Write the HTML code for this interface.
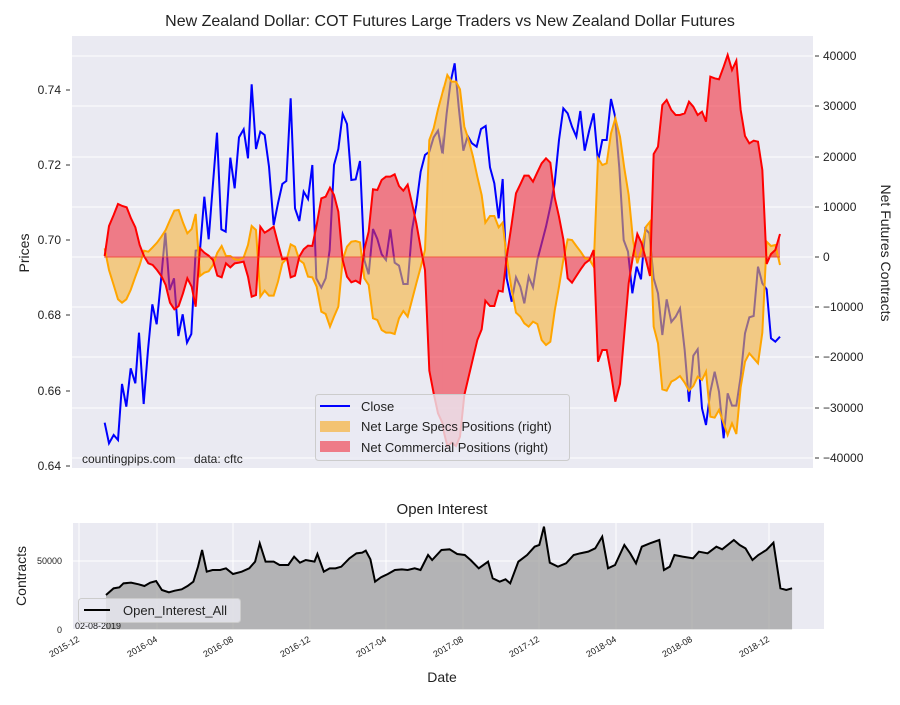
<!DOCTYPE html>
<html><head><meta charset="utf-8"><style>
body{margin:0;background:#fff;}
svg text{font-family:"Liberation Sans",sans-serif;fill:#222;}
</style></head><body>
<svg width="900" height="700" viewBox="0 0 900 700" xmlns="http://www.w3.org/2000/svg">
<text x="450" y="26" font-size="16" text-anchor="middle">New Zealand Dollar: COT Futures Large Traders vs New Zealand Dollar Futures</text>
<rect x="72" y="36" width="741" height="432" fill="#eaeaf2"/>
<g stroke="#fff" stroke-width="1">
<line x1="72" x2="813" y1="56" y2="56"/><line x1="72" x2="813" y1="106" y2="106"/><line x1="72" x2="813" y1="157" y2="157"/><line x1="72" x2="813" y1="207" y2="207"/><line x1="72" x2="813" y1="257" y2="257"/><line x1="72" x2="813" y1="307" y2="307"/><line x1="72" x2="813" y1="357" y2="357"/><line x1="72" x2="813" y1="408" y2="408"/><line x1="72" x2="813" y1="458" y2="458"/>
</g>
<g font-size="12" text-anchor="end">
<text x="61" y="94">0.74</text><text x="61" y="169">0.72</text><text x="61" y="244">0.70</text><text x="61" y="319">0.68</text><text x="61" y="395">0.66</text><text x="61" y="470">0.64</text>
</g>
<g stroke="#333" stroke-width="1">
<line x1="66" x2="70" y1="90" y2="90"/><line x1="66" x2="70" y1="165" y2="165"/><line x1="66" x2="70" y1="240" y2="240"/><line x1="66" x2="70" y1="315" y2="315"/><line x1="66" x2="70" y1="391" y2="391"/><line x1="66" x2="70" y1="466" y2="466"/>
<line x1="815" x2="819" y1="56" y2="56"/><line x1="815" x2="819" y1="106" y2="106"/><line x1="815" x2="819" y1="157" y2="157"/><line x1="815" x2="819" y1="207" y2="207"/><line x1="815" x2="819" y1="257" y2="257"/><line x1="815" x2="819" y1="307" y2="307"/><line x1="815" x2="819" y1="357" y2="357"/><line x1="815" x2="819" y1="408" y2="408"/><line x1="815" x2="819" y1="458" y2="458"/>
</g>
<g font-size="12">
<text x="823" y="60">40000</text><text x="823" y="110">30000</text><text x="823" y="161">20000</text><text x="823" y="211">10000</text><text x="823" y="261">0</text><text x="823" y="311">−10000</text><text x="823" y="361">−20000</text><text x="823" y="412">−30000</text><text x="823" y="462">−40000</text>
</g>
<text transform="translate(29,253) rotate(-90)" font-size="14" text-anchor="middle">Prices</text>
<text transform="translate(881,253) rotate(90)" font-size="14" text-anchor="middle">Net Futures Contracts</text>

<defs><clipPath id="c1"><rect x="0" y="0" width="1125" height="1400"/></clipPath><clipPath id="c2"><rect x="9" y="0" width="1100" height="1400"/></clipPath></defs>
<g transform="translate(68,30) scale(0.33333)" clip-path="url(#c1)">
<polyline fill="none" stroke="#0000ff" stroke-width="6" points="110,1178 123,1240 137,1215 150,1230 162,1062 175,1130 188,1015 202,1060 213,908 227,1122 240,960 253,823 266,883 280,740 292,608 305,780 318,745 331,918 344,853 357,938 370,912 383,662 396,660 409,500 422,628 435,460 447,308 460,598 473,605 487,383 500,475 513,322 527,298 540,385 551,163 564,357 577,305 590,315 603,410 617,585 630,520 643,462 655,453 668,205 681,535 694,573 707,485 720,507 733,405 745,745 760,773 773,745 785,660 798,405 811,357 824,252 837,282 850,450 863,448 876,393 889,690 902,733 915,597 928,627 941,673 954,690 967,598 980,698 993,707 1006,762 1019,762 1032,600 1045,525 1058,425 1071,375 1084,365 1097,322 1110,302 1123,370 1138,200 1150,150"/>
<polygon fill="#f6b23a" fill-opacity="0.6" points="110,682 110,655 123,720 137,765 150,808 162,818 175,808 188,780 202,740 215,705 228,662 241,665 254,652 267,638 280,620 293,600 306,570 319,542 332,540 345,578 358,610 371,597 383,552 396,738 409,728 422,724 435,705 448,668 461,648 474,678 487,678 500,688 513,690 527,682 540,645 551,588 564,600 577,800 590,782 603,797 617,797 630,755 643,700 657,685 668,643 681,650 694,690 707,700 720,740 733,742 746,770 760,845 773,852 786,890 798,860 811,830 824,690 837,650 850,635 863,633 876,637 889,745 902,765 915,865 928,870 941,900 954,908 967,908 980,912 993,865 1006,843 1019,860 1032,810 1045,760 1058,712 1071,660 1084,330 1097,295 1110,238 1123,190 1136,138 1150,100 1150,682"/>
<polygon fill="#f03040" fill-opacity="0.6" points="110,682 110,678 123,588 137,555 150,522 163,528 176,532 189,565 202,592 215,645 228,678 241,700 254,705 267,720 280,738 293,765 306,818 319,838 332,828 345,790 358,745 371,770 383,830 396,655 409,668 422,677 435,690 448,737 461,742 474,700 487,712 500,700 513,698 527,695 540,740 551,800 564,795 577,590 590,608 603,600 617,590 630,640 643,688 657,685 668,742 681,737 694,680 707,658 720,647 733,648 746,585 760,505 773,500 786,473 798,495 811,545 824,690 837,740 850,757 863,752 876,760 889,658 902,605 915,478 928,480 941,450 954,440 967,440 980,433 993,468 1006,482 1019,464 1032,520 1045,580 1058,653 1071,720 1084,1022 1097,1090 1110,1150 1123,1178 1136,1250 1150,1200 1150,682"/>
<polyline fill="none" stroke="#ffa500" stroke-width="6" points="110,655 123,720 137,765 150,808 162,818 175,808 188,780 202,740 215,705 228,662 241,665 254,652 267,638 280,620 293,600 306,570 319,542 332,540 345,578 358,610 371,597 383,552 396,738 409,728 422,724 435,705 448,668 461,648 474,678 487,678 500,688 513,690 527,682 540,645 551,588 564,600 577,800 590,782 603,797 617,797 630,755 643,700 657,685 668,643 681,650 694,690 707,700 720,740 733,742 746,770 760,845 773,852 786,890 798,860 811,830 824,690 837,650 850,635 863,633 876,637 889,745 902,765 915,865 928,870 941,900 954,908 967,908 980,912 993,865 1006,843 1019,860 1032,810 1045,760 1058,712 1071,660 1084,330 1097,295 1110,238 1123,190 1136,138 1150,100"/>
<polyline fill="none" stroke="#ff0000" stroke-width="6" points="110,678 123,588 137,555 150,522 163,528 176,532 189,565 202,592 215,645 228,678 241,700 254,705 267,720 280,738 293,765 306,818 319,838 332,828 345,790 358,745 371,770 383,830 396,655 409,668 422,677 435,690 448,737 461,742 474,700 487,712 500,700 513,698 527,695 540,740 551,800 564,795 577,590 590,608 603,600 617,590 630,640 643,688 657,685 668,742 681,737 694,680 707,658 720,647 733,648 746,585 760,505 773,500 786,473 798,495 811,545 824,690 837,740 850,757 863,752 876,760 889,658 902,605 915,478 928,480 941,450 954,440 967,440 980,433 993,468 1006,482 1019,464 1032,520 1045,580 1058,653 1071,720 1084,1022 1097,1090 1110,1150 1123,1178 1136,1250 1150,1200"/>
</g>
<g transform="translate(440,30) scale(0.33333)" clip-path="url(#c2)">
<polyline fill="none" stroke="#0000ff" stroke-width="6" points="-10,300 0,340 8,372 20,250 32,155 44,100 56,230 70,362 83,318 96,340 110,350 123,297 137,288 150,412 163,460 176,565 188,447 200,745 215,815 228,742 241,770 253,820 266,740 279,772 292,690 305,640 318,590 331,530 344,460 357,330 370,235 383,250 396,290 409,320 421,243 434,362 448,300 461,250 474,395 487,330 500,330 513,207 525,258 538,415 551,630 564,665 577,790 590,710 603,748 616,597 628,610 641,745 654,790 667,915 680,808 694,876 707,860 720,835 734,960 747,1115 760,977 773,958 786,1135 798,1185 811,1085 824,1025 837,1085 851,1225 863,1090 876,1127 889,1127 902,1040 915,910 928,862 941,858 954,710 967,760 980,778 993,925 1006,935 1020,920"/>
<polygon fill="#f6b23a" fill-opacity="0.6" points="-10,682 -10,240 0,210 10,180 22,135 35,155 48,155 60,178 73,290 86,330 99,380 112,440 125,495 136,578 150,558 163,558 176,592 188,578 200,682 215,780 228,848 241,860 253,880 266,890 279,875 292,882 305,930 318,945 331,935 344,843 357,770 370,690 383,628 396,630 409,648 422,665 435,685 448,688 461,710 474,385 487,405 500,400 513,310 526,265 540,320 553,415 566,495 579,630 592,700 605,655 618,590 630,575 641,890 654,940 667,1078 680,1082 694,1055 707,1048 720,1038 734,1058 747,1082 760,1068 773,1040 786,1050 798,1025 811,1160 824,1163 837,1140 851,1180 863,1215 876,1180 889,1212 902,1072 915,995 928,970 941,985 954,1000 967,908 980,635 993,648 1006,645 1020,705 1020,682"/>
<polygon fill="#f03040" fill-opacity="0.6" points="-10,682 -10,1080 0,1130 10,1200 22,1248 35,1238 48,1248 60,1220 73,1095 86,1040 99,985 112,930 125,898 136,812 150,828 163,828 176,782 188,785 200,682 215,582 228,490 241,463 253,437 266,437 279,455 292,427 305,400 318,385 331,398 344,502 357,560 370,628 383,745 396,758 409,738 422,718 435,700 448,690 461,660 474,995 487,960 500,960 513,1030 526,1115 540,1062 553,910 566,760 579,678 592,612 605,640 618,690 630,738 641,372 654,350 667,225 680,210 694,240 707,255 720,255 734,250 747,215 760,230 773,255 786,245 798,275 811,140 824,145 837,148 851,110 863,75 876,120 889,92 902,240 915,318 928,340 941,332 954,335 967,420 980,702 993,672 1006,660 1020,612 1020,682"/>
<polyline fill="none" stroke="#ffa500" stroke-width="6" points="-10,240 0,210 10,180 22,135 35,155 48,155 60,178 73,290 86,330 99,380 112,440 125,495 136,578 150,558 163,558 176,592 188,578 200,682 215,780 228,848 241,860 253,880 266,890 279,875 292,882 305,930 318,945 331,935 344,843 357,770 370,690 383,628 396,630 409,648 422,665 435,685 448,688 461,710 474,385 487,405 500,400 513,310 526,265 540,320 553,415 566,495 579,630 592,700 605,655 618,590 630,575 641,890 654,940 667,1078 680,1082 694,1055 707,1048 720,1038 734,1058 747,1082 760,1068 773,1040 786,1050 798,1025 811,1160 824,1163 837,1140 851,1180 863,1215 876,1180 889,1212 902,1072 915,995 928,970 941,985 954,1000 967,908 980,635 993,648 1006,645 1020,705"/>
<polyline fill="none" stroke="#ff0000" stroke-width="6" points="-10,1080 0,1130 10,1200 22,1248 35,1238 48,1248 60,1220 73,1095 86,1040 99,985 112,930 125,898 136,812 150,828 163,828 176,782 188,785 200,682 215,582 228,490 241,463 253,437 266,437 279,455 292,427 305,400 318,385 331,398 344,502 357,560 370,628 383,745 396,758 409,738 422,718 435,700 448,690 461,660 474,995 487,960 500,960 513,1030 526,1115 540,1062 553,910 566,760 579,678 592,612 605,640 618,690 630,738 641,372 654,350 667,225 680,210 694,240 707,255 720,255 734,250 747,215 760,230 773,255 786,245 798,275 811,140 824,145 837,148 851,110 863,75 876,120 889,92 902,240 915,318 928,340 941,332 954,335 967,420 980,702 993,672 1006,660 1020,612"/>
</g>
<line x1="104" x2="780" y1="257" y2="257" stroke="#f04030" stroke-width="1" opacity="0.8"/>

<rect x="315.5" y="394.5" width="254" height="66" rx="3" fill="#eaeaf2" fill-opacity="0.8" stroke="#cccccc"/>
<line x1="320" x2="350" y1="406" y2="406" stroke="#0000ff" stroke-width="2"/>
<rect x="320" y="421" width="30" height="11" fill="#f6b23a" fill-opacity="0.7"/>
<rect x="320" y="441" width="30" height="11" fill="#f03040" fill-opacity="0.6"/>
<g font-size="13"><text x="361" y="411">Close</text><text x="361" y="431">Net Large Specs Positions (right)</text><text x="361" y="452">Net Commercial Positions (right)</text></g>
<text x="82" y="463" font-size="12">countingpips.com</text>
<text x="194" y="463" font-size="12">data: cftc</text>

<text x="442" y="514" font-size="15" text-anchor="middle">Open Interest</text>
<rect x="73" y="523" width="751" height="106" fill="#eaeaf2"/>
<g stroke="#fff" stroke-width="1">
<line x1="79" x2="79" y1="523" y2="629"/><line x1="157" x2="157" y1="523" y2="629"/><line x1="233" x2="233" y1="523" y2="629"/><line x1="310" x2="310" y1="523" y2="629"/><line x1="386" x2="386" y1="523" y2="629"/><line x1="463" x2="463" y1="523" y2="629"/><line x1="539" x2="539" y1="523" y2="629"/><line x1="616" x2="616" y1="523" y2="629"/><line x1="692" x2="692" y1="523" y2="629"/><line x1="769" x2="769" y1="523" y2="629"/>
<line x1="73" x2="824" y1="561" y2="561"/>
</g>
<g transform="translate(0,500) scale(0.58241,0.33333)">
<polygon fill="#a0a0a0" fill-opacity="0.75" points="182,388 182,285 195,265 205,262 212,250 225,248 238,253 248,258 258,248 268,243 278,270 290,277 300,272 312,268 322,258 332,245 340,200 347,150 355,215 365,210 378,210 388,205 400,222 415,215 428,205 438,185 446,130 456,185 470,185 480,195 495,195 505,170 515,188 525,180 540,185 545,162 556,215 566,205 576,205 586,200 600,175 612,160 622,158 628,152 636,178 644,245 654,232 666,222 678,210 690,208 700,210 712,205 722,210 735,165 742,180 758,150 772,148 785,162 798,165 808,180 822,205 838,185 846,235 858,245 868,238 876,250 890,185 905,165 918,140 926,135 934,80 944,188 958,200 972,190 985,165 996,160 1010,155 1022,145 1034,110 1044,205 1056,195 1072,135 1082,160 1092,190 1102,140 1116,130 1132,120 1140,210 1150,200 1158,165 1172,170 1190,175 1200,155 1215,160 1230,140 1240,148 1260,120 1270,135 1280,145 1292,180 1302,165 1316,150 1328,128 1340,265 1350,270 1360,265 1360,388"/>
<polyline fill="none" stroke="#000" stroke-width="2" vector-effect="non-scaling-stroke" points="182,285 195,265 205,262 212,250 225,248 238,253 248,258 258,248 268,243 278,270 290,277 300,272 312,268 322,258 332,245 340,200 347,150 355,215 365,210 378,210 388,205 400,222 415,215 428,205 438,185 446,130 456,185 470,185 480,195 495,195 505,170 515,188 525,180 540,185 545,162 556,215 566,205 576,205 586,200 600,175 612,160 622,158 628,152 636,178 644,245 654,232 666,222 678,210 690,208 700,210 712,205 722,210 735,165 742,180 758,150 772,148 785,162 798,165 808,180 822,205 838,185 846,235 858,245 868,238 876,250 890,185 905,165 918,140 926,135 934,80 944,188 958,200 972,190 985,165 996,160 1010,155 1022,145 1034,110 1044,205 1056,195 1072,135 1082,160 1092,190 1102,140 1116,130 1132,120 1140,210 1150,200 1158,165 1172,170 1190,175 1200,155 1215,160 1230,140 1240,148 1260,120 1270,135 1280,145 1292,180 1302,165 1316,150 1328,128 1340,265 1350,270 1360,265"/>
</g>
<g font-size="9" text-anchor="end"><text x="62" y="564">50000</text><text x="62" y="633">0</text></g>
<text x="75" y="629" font-size="9">02-08-2019</text>
<rect x="78.5" y="598.5" width="162" height="24" rx="3" fill="#eaeaf2" fill-opacity="0.8" stroke="#cccccc"/>
<line x1="84" x2="110" y1="610" y2="610" stroke="#000" stroke-width="2"/>
<text x="123" y="615" font-size="13">Open_Interest_All</text>
<text transform="translate(26,576) rotate(-90)" font-size="14" text-anchor="middle">Contracts</text>
<g font-size="9" text-anchor="end">
<text transform="translate(80,641) rotate(-30)">2015-12</text><text transform="translate(158,641) rotate(-30)">2016-04</text><text transform="translate(234,641) rotate(-30)">2016-08</text><text transform="translate(311,641) rotate(-30)">2016-12</text><text transform="translate(387,641) rotate(-30)">2017-04</text><text transform="translate(464,641) rotate(-30)">2017-08</text><text transform="translate(540,641) rotate(-30)">2017-12</text><text transform="translate(617,641) rotate(-30)">2018-04</text><text transform="translate(693,641) rotate(-30)">2018-08</text><text transform="translate(770,641) rotate(-30)">2018-12</text>
</g>
<text x="442" y="682" font-size="14" text-anchor="middle">Date</text>
</svg>
</body></html>
